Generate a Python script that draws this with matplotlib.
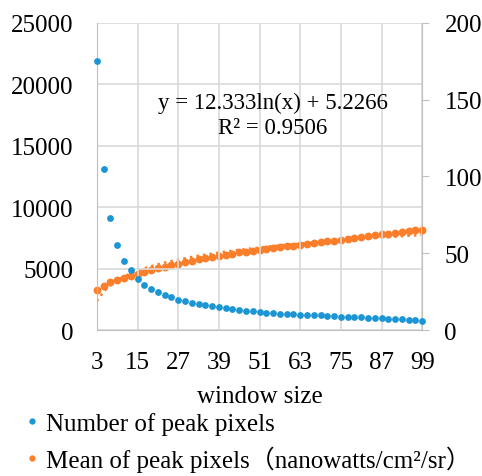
import numpy as np
import matplotlib
matplotlib.use('Agg')
import matplotlib.pyplot as plt
from matplotlib.lines import Line2D

plt.rcParams['font.family'] = ['Liberation Serif', 'Noto Sans CJK SC']
plt.rcParams['font.size'] = 18

# window sizes 3, 5, ..., 99
window = list(range(3, 100, 2))

peak_count = [21900, 13100, 9100, 6950, 5630, 4870, 4190, 3670, 3350, 3110,
              2860, 2690, 2480, 2340, 2210, 2100, 2030, 1940, 1860, 1780,
              1700, 1640, 1570, 1510, 1460, 1420, 1370, 1340, 1310, 1280,
              1250, 1230, 1210, 1190, 1170, 1150, 1090, 1080, 1060, 1040,
              1020, 990, 950, 930, 900, 880, 850, 820, 770]

peak_mean = [26.3, 28.9, 31.0, 32.4, 33.9, 35.0, 36.8, 38.0, 39.1, 40.3,
             41.2, 42.2, 43.2, 44.2, 45.2, 46.0, 46.8, 47.7, 48.4, 49.1,
             49.8, 50.5, 51.1, 51.7, 52.3, 52.8, 53.3, 53.9, 54.5, 55.0,
             55.5, 56.1, 56.7, 57.2, 57.7, 58.2, 58.8, 59.3, 59.8, 60.4,
             61.0, 61.6, 62.3, 62.8, 63.3, 63.8, 64.4, 64.9, 65.4]

# logarithmic trendline shown on the chart
trend_a, trend_b = 12.333, 5.2266

xticks = [3, 15, 27, 39, 51, 63, 75, 87, 99]

blue = '#1b95d3'
orange = '#fb7f2a'
grid_c = '#d9d9d9'
spine_c = '#bfbfbf'

fig = plt.figure(figsize=(4.82, 4.77), dpi=100)
ax1 = fig.add_axes([0.201, 0.306, 0.675, 0.644])
ax2 = ax1.twinx()

ax1.set_zorder(2)
ax1.patch.set_visible(False)

ax1.scatter(window, peak_count, s=24, color=blue, zorder=3, clip_on=False, linewidths=0)

wx = np.array(window, dtype=float)
ax2.plot(wx, trend_a * np.log(wx) + trend_b, ':', color=orange, lw=1.8, zorder=2)
ax2.scatter(window, peak_mean, s=32, color=orange, zorder=3, clip_on=False, linewidths=0)

ax1.set_xlim(3, 99)
ax1.set_ylim(0, 25000)
ax2.set_ylim(0, 200)
ax1.set_xticks(xticks)
ax1.set_yticks(range(0, 25001, 5000))
ax2.set_yticks(range(0, 201, 50))

ax1.grid(True, color=grid_c, lw=1.2)
ax1.set_axisbelow(True)
ax2.set_axisbelow(True)

for ax in (ax1, ax2):
    for s in ax.spines.values():
        s.set_visible(False)
ax1.spines['left'].set_visible(True)
ax1.spines['left'].set_color(spine_c)
ax1.spines['bottom'].set_visible(True)
ax1.spines['bottom'].set_color(spine_c)
ax2.spines['right'].set_visible(True)
ax2.spines['right'].set_color(spine_c)

ax1.tick_params(axis='y', length=0, pad=17)
ax1.tick_params(axis='x', length=0, pad=15)
ax2.tick_params(axis='y', length=5, color=spine_c, pad=11)

ax1.set_xlabel('window size', labelpad=9)

ax1.text(0.54, 0.70, 'y = 12.333ln(x) + 5.2266\nR² = 0.9506', transform=ax1.transAxes,
         ha='center', va='center', fontsize=16.5, linespacing=1.25)

handles = [
    Line2D([], [], marker='o', ls='none', color=blue, markersize=3.5),
    Line2D([], [], marker='o', ls='none', color=orange, markersize=3.5),
]
fig.legend(handles, ['Number of peak pixels', 'Mean of peak pixels（nanowatts/cm²/sr）'],
           loc='upper left', bbox_to_anchor=(0.02, 0.155), frameon=False,
           handletextpad=0.05, handlelength=1.0, labelspacing=0.42, borderaxespad=0)

fig.savefig('out.png', dpi=100)
